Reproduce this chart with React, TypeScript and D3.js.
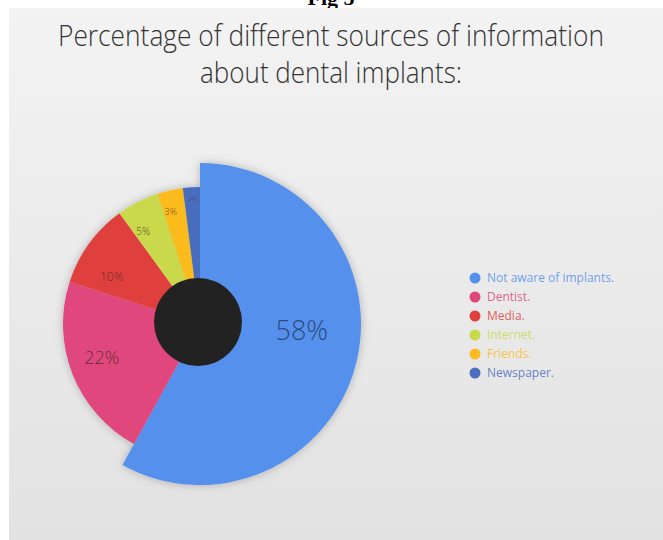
import React from "react";
import * as d3 from "d3";

const categories = ["Not aware of implants.", "Dentist.", "Media.", "Internet.", "Friends.", "Newspaper."];
const values = [58, 22, 10, 5, 3, 2];
const colors = ["#5591ec", "#e0467c", "#df3f3d", "#c9d94c", "#fbbb1e", "#4a6dbd"];
const labelSizes = [27, 18, 12, 10, 9, 6];

const W = 663, H = 540;
const cx = 200, cy = 324;

// label placement tweaks (degrees shift from slice middle, radius)
const labelShift = [-11, 2.5, -8, -4.5, -2, 0];
const labelRadius = [102, 104, 100, 109, 116, 125];

export default function App() {
  const pie = d3.pie<number>().sort(null).value((d) => d);
  const arcs = pie(values);
  const outer = (i: number) => (i === 0 ? 161 : 137);
  const arcGen = (i: number) => d3.arc<d3.PieArcDatum<number>>().innerRadius(0).outerRadius(outer(i));

  const legendY = d3.scaleBand<string>().domain(categories).range([268.5, 382.5]);

  return (
    <svg width={W} height={H} style={{ position: "absolute", left: 0, top: 0 }}>
      <defs>
        <linearGradient id="bg" x1="0" y1="0" x2="0" y2="1">
          <stop offset="0" stopColor="#f3f3f3" />
          <stop offset="1" stopColor="#e2e2e2" />
        </linearGradient>
        <filter id="sh" x="-20%" y="-20%" width="140%" height="140%">
          <feDropShadow dx="0" dy="0" stdDeviation="4" floodColor="#000" floodOpacity="0.25" />
        </filter>
      </defs>
      <rect width={W} height={H} fill="#fff" />
      <text x={331} y={5} textAnchor="middle" fontFamily="Liberation Serif, serif" fontWeight="bold" fontSize={22} fill="#000">Fig 5</text>
      <rect x={9} y={8} width={W - 9} height={H - 8} fill="url(#bg)" />

      <text x={331} y={46} textAnchor="middle" fontFamily="Open Sans, sans-serif" fontWeight={300} fontSize={30}
        fill="#333" textLength={546} lengthAdjust="spacingAndGlyphs">
        Percentage of different sources of information
      </text>
      <text x={331} y={83} textAnchor="middle" fontFamily="Open Sans, sans-serif" fontWeight={300} fontSize={30}
        fill="#333" textLength={262} lengthAdjust="spacingAndGlyphs">
        about dental implants:
      </text>

      <g transform={`translate(${cx},${cy})`}>
        <g filter="url(#sh)">
          {arcs.map((a, i) => (
            <path key={i} d={arcGen(i)(a) || ""} fill={colors[i]} />
          ))}
        </g>
        <circle r={44} fill="#222" cx={-2} cy={-2} />
        {arcs.map((a, i) => {
          const mid = (a.startAngle + a.endAngle) / 2 + (labelShift[i] * Math.PI) / 180;
          const [x, y] = d3.pointRadial(mid, labelRadius[i]);
          return (
            <text key={i} x={x} y={y} dy="0.35em" textAnchor="middle" fontFamily="Open Sans, sans-serif"
              fontWeight={300} fontSize={labelSizes[i]} fill={i === 0 ? "#253a64" : "#4a2a2a"} fillOpacity={0.85}>
              {values[i]}%
            </text>
          );
        })}
      </g>

      <g fontFamily="Open Sans, sans-serif" fontSize={12}>
        {categories.map((c, i) => {
          const y = (legendY(c) || 0) + legendY.bandwidth() / 2;
          return (
            <g key={c}>
              <circle cx={475} cy={y} r={5.5} fill={colors[i]} />
              <text x={487} y={y} dy="0.35em" fill={colors[i]} fillOpacity={0.85}>{c}</text>
            </g>
          );
        })}
      </g>
    </svg>
  );
}
